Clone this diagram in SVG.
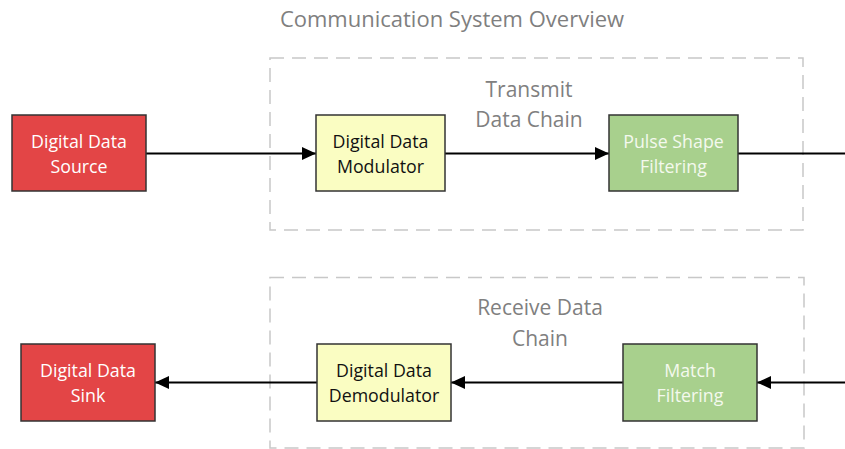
<svg xmlns="http://www.w3.org/2000/svg" width="845" height="449" viewBox="0 0 845 449">
  <style>
    .bg { fill: #ffffff; }
    .group { fill: none; stroke: #c8c8c8; stroke-width: 1.5; stroke-dasharray: 14 8; }
    .title { font-family: "Open Sans", "Liberation Sans", sans-serif; font-size: 22px; fill: #7f7f7f; text-anchor: middle; }
    .glabel { font-family: "Open Sans", "Liberation Sans", sans-serif; font-size: 21px; fill: #808080; text-anchor: middle; }
    .node rect { stroke: #333333; stroke-width: 1.5; }
    .node text { font-family: "Open Sans", "Liberation Sans", sans-serif; font-size: 17.8px; text-anchor: middle; }
    .red rect { fill: #e34546; }
    .red text { fill: #ffffff; }
    .yellow rect { fill: #fafdc2; }
    .yellow text { fill: #111111; }
    .green rect { fill: #a8d08d; }
    .green text { fill: #f4f9ee; }
    .conn { stroke: #000000; stroke-width: 2; fill: none; }
  </style>
  <defs>
    <marker id="arrow" viewBox="0 0 14 13" refX="14" refY="6.5" markerWidth="14" markerHeight="13" markerUnits="userSpaceOnUse" orient="auto">
      <path d="M0,0 L14,6.5 L0,13 Z" fill="#000000"/>
    </marker>
  </defs>

  <rect class="bg" x="0" y="0" width="845" height="449"/>

  <!-- title -->
  <text class="title" x="452" y="27">Communication System Overview</text>

  <!-- chain groupings -->
  <g id="tx-chain">
    <rect class="group" x="270" y="58" width="533" height="172"/>
    <text class="glabel" x="529" y="97">Transmit</text>
    <text class="glabel" x="529" y="127">Data Chain</text>
  </g>
  <g id="rx-chain">
    <rect class="group" x="270" y="277.5" width="534" height="170.5"/>
    <text class="glabel" x="540" y="315">Receive Data</text>
    <text class="glabel" x="540" y="346">Chain</text>
  </g>

  <!-- connectors -->
  <g id="connectors">
    <line class="conn" x1="146" y1="153.5" x2="316" y2="153.5" marker-end="url(#arrow)"/>
    <line class="conn" x1="445" y1="153.5" x2="609" y2="153.5" marker-end="url(#arrow)"/>
    <line class="conn" x1="738" y1="153.5" x2="845" y2="153.5"/>
    <line class="conn" x1="845" y1="382.5" x2="757" y2="382.5" marker-end="url(#arrow)"/>
    <line class="conn" x1="623" y1="382.5" x2="451" y2="382.5" marker-end="url(#arrow)"/>
    <line class="conn" x1="317" y1="382.5" x2="155" y2="382.5" marker-end="url(#arrow)"/>
  </g>

  <!-- transmit row -->
  <g id="source" class="node red">
    <rect x="12" y="115" width="134" height="76"/>
    <text x="79" y="148">Digital Data</text>
    <text x="79" y="173">Source</text>
  </g>
  <g id="modulator" class="node yellow">
    <rect x="316" y="115" width="129" height="76"/>
    <text x="380.5" y="148">Digital Data</text>
    <text x="380.5" y="173">Modulator</text>
  </g>
  <g id="pulse-shape" class="node green">
    <rect x="609" y="115" width="129" height="76"/>
    <text x="673.5" y="148">Pulse Shape</text>
    <text x="673.5" y="173">Filtering</text>
  </g>

  <!-- receive row -->
  <g id="sink" class="node red">
    <rect x="21" y="344" width="134" height="77"/>
    <text x="88" y="377">Digital Data</text>
    <text x="88" y="402">Sink</text>
  </g>
  <g id="demodulator" class="node yellow">
    <rect x="317" y="344" width="134" height="77"/>
    <text x="384" y="377">Digital Data</text>
    <text x="384" y="402">Demodulator</text>
  </g>
  <g id="match-filter" class="node green">
    <rect x="623" y="344" width="134" height="77"/>
    <text x="690" y="377">Match</text>
    <text x="690" y="402">Filtering</text>
  </g>
</svg>
